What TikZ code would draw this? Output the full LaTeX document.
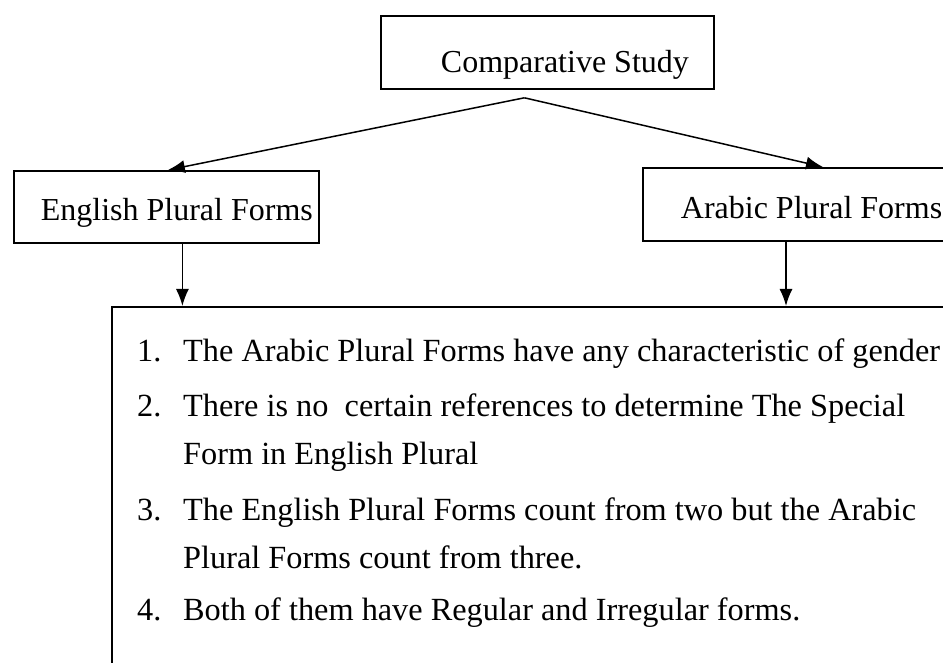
\documentclass[tikz,border=0pt]{standalone}
\usepackage{fontspec}
\setmainfont{Liberation Serif}
\usetikzlibrary{arrows.meta}

\begin{document}
\begin{tikzpicture}[x=1pt, y=-1pt,
  every node/.style={font=\fontsize{32}{38}\selectfont},
  box/.style={draw, line width=1.8pt, inner ysep=0pt, anchor=north west},
  link/.style={line width=1.5pt, -{Latex[length=17pt,width=13pt]}},
  item/.style={anchor=base west, inner sep=0pt, font=\fontsize{32.3}{40}\selectfont}]

  \clip (0,0) rectangle (943,663);
  \fill[white] (0,0) rectangle (943,663);

  % Study and the two plural forms
  \node[box, inner xsep=25pt, text width=283pt, align=flush right, text height=57pt, text depth=16pt] (study) at (380,15) {Comparative Study};
  \node[box, inner xsep=6pt, text width=293pt, align=flush right, text height=50pt, text depth=22pt] (english) at (13,170) {English Plural Forms};
  \node[box, inner xsep=38pt, text width=300pt, align=flush left, text height=51pt, text depth=22pt] (arabic) at (642,167) {Arabic Plural Forms};

  % Box of differences
  \node[box, minimum width=900pt, minimum height=420pt, inner sep=0pt] (notes) at (111,306) {};

  \coordinate (split) at ([xshift=-23pt, yshift=-8pt]study.south);
  \draw[link] (split) -- ([xshift=1.5pt]english.north);
  \draw[link] (split) -- ([xshift=181pt]arabic.north west);
  \draw[link] ([xshift=16pt]english.south) -- ([xshift=16pt]english.south |- notes.north);
  \draw[link] ([xshift=144pt]arabic.south west) -- ([xshift=144pt]arabic.south west |- notes.north);

  \node[item] (n1) at (137,361) {1.};
  \node[item] (t1) at (183,361) {The Arabic Plural Forms have any characteristic of gender};
  \node[item] (n2) at (137,416) {2.};
  \node[item] (t2) at (183,416) {There is no \ certain references to determine The Special};
  \node[item] (t2b) at (183,464) {Form in English Plural};
  \node[item] (n3) at (137,520) {3.};
  \node[item] (t3) at (183,520) {The English Plural Forms count from two but the Arabic};
  \node[item] (t3b) at (183,568) {Plural Forms count from three.};
  \node[item] (n4) at (137,620) {4.};
  \node[item] (t4) at (183,620) {Both of them have Regular and Irregular forms.};

\end{tikzpicture}
\end{document}
